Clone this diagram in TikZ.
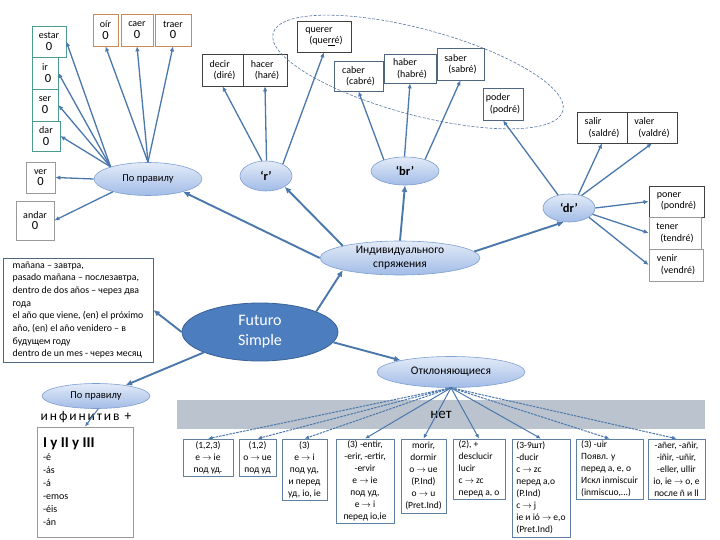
\documentclass[tikz,border=0pt]{standalone}
\usepackage{fontspec}
\setmainfont{Carlito}
\newfontfamily\spacedfont[LetterSpace=14]{Carlito}
\usetikzlibrary{shapes.geometric,arrows.meta}
\definecolor{arrc}{HTML}{4A78AC}
\definecolor{ellc}{HTML}{7E9FD2}
\definecolor{elltop}{HTML}{E3EBF8}
\definecolor{ellbot}{HTML}{A2BCE7}
\definecolor{futc}{HTML}{4C7DBE}
\definecolor{futd}{HTML}{3A6298}
\definecolor{barc}{HTML}{BAC3CE}
\definecolor{tealc}{HTML}{4B9C8E}
\definecolor{orc}{HTML}{C98A55}
\definecolor{darkc}{HTML}{404040}
\definecolor{bgc}{HTML}{4F6680}
\definecolor{botc}{HTML}{5F80A0}
\definecolor{lgc}{HTML}{9A9A9A}
\definecolor{dashc}{HTML}{5A78A8}
\newcommand{\bigzero}{{\fontsize{12.5}{13}\selectfont 0}}
\newcommand{\ra}{$\rightarrow$}
\begin{document}
\begin{tikzpicture}[x=1pt,y=-1pt,
  arr/.style={draw=arrc, line width=1.3pt, -{Latex[length=5pt,width=4.5pt]}},
  arrb/.style={draw=arrc, line width=1.9pt, -{Latex[length=6.5pt,width=6pt]}},
  arrt/.style={draw=arrc, line width=1pt, -{Latex[length=4.5pt,width=4pt]}},
  arrd/.style={arrt, dash pattern=on 2.5pt off 1pt},
  bx/.style={draw=darkc, line width=0.7pt, fill=white, inner sep=1pt, align=left, font=\fontsize{10}{11.5}\selectfont},
  zb/.style={bx, align=center},
  bt/.style={draw=botc, line width=0.7pt, fill=white, inner sep=1pt, font=\fontsize{9.5}{12}\selectfont},
  ell/.style={ellipse, draw=ellc, line width=0.6pt, top color=elltop, bottom color=ellbot, inner sep=0pt, align=center},
  qe/.style={ell, font=\fontsize{12.5}{14}\selectfont\bfseries}
]
\useasboundingbox (0,0) rectangle (720,540);
\fill[white] (0,0) rectangle (720,540);

% grey bar
\node[fill=barc, minimum width=528, minimum height=29, inner sep=0pt, font=\fontsize{15}{17}\selectfont] (bar) at (441,414.5) {нет};

% top-left boxes
\node[zb, draw=tealc, minimum width=34, minimum height=31] (estar) at (49,41.5) {estar\\\bigzero};
\node[zb, draw=tealc, minimum width=26, minimum height=32] (ir) at (45,73) {ir\\\hspace*{6pt}\bigzero};
\node[zb, draw=tealc, minimum width=26, minimum height=32] (ser) at (45,105) {ser\\\bigzero};
\node[zb, draw=tealc, minimum width=28, minimum height=30] (dar) at (46,136) {dar\\\bigzero};
\node[zb, draw=lgc, minimum width=29, minimum height=31] (ver) at (40.5,177.5) {ver\\\bigzero};
\node[zb, draw=lgc, minimum width=38, minimum height=39] (andar) at (35,220.5) {andar\\\bigzero};

\node[zb, draw=orc, minimum width=25, minimum height=32] (oir) at (105.5,30) {oír\\\bigzero};
\node[zb, draw=orc, minimum width=32, minimum height=32] (caer) at (137,30) {caer\\\bigzero};
\node[zb, draw=orc, minimum width=36, minimum height=32] (traer) at (173,30) {traer\\\bigzero};

% top-middle boxes
\node[bx, minimum width=41, minimum height=32] (decir) at (222.5,70) {decir\\\hspace*{4pt}(diré)};
\node[bx, minimum width=44, minimum height=32] (hacer) at (265,70) {hacer\\\hspace*{4pt}(haré)};
\node[bx, minimum width=54, minimum height=31] (querer) at (324,36.5) {querer\\\hspace*{4pt}(que\underline{rr}é)};
\node[bx, draw=bgc, minimum width=49, minimum height=30] (caber) at (358.5,76) {caber\\\hspace*{4pt}(cabré)};
\node[bx, draw=bgc, minimum width=52, minimum height=29] (haber) at (410,68.5) {haber\\\hspace*{4pt}(habré)};
\node[bx, draw=bgc, minimum width=47, minimum height=32] (saber) at (460.5,64) {saber\\\hspace*{4pt}(sabré)};
\node[bx, draw=bgc, minimum width=40, minimum height=32] (poder) at (503,104) {poder\\\hspace*{4pt}(podré)};

% right boxes
\node[bx, minimum width=50, minimum height=31] (salir) at (602,127.5) {salir\\\hspace*{4pt}(saldré)};
\node[bx, minimum width=50, minimum height=31] (valer) at (652,127.5) {valer\\\hspace*{4pt}(valdré)};
\node[bx, minimum width=55, minimum height=31] (poner) at (676.5,201.5) {poner\\\hspace*{4pt}(pondré)};
\node[bx, draw=lgc, minimum width=52, minimum height=32] (tener) at (675,233) {tener\\\hspace*{4pt}(tendré)};
\node[bx, draw=lgc, minimum width=54, minimum height=32] (venir) at (676,265) {venir\\\hspace*{4pt}(vendré)};

% dashed ellipse
\draw[dashc, dash pattern=on 3pt off 1.5pt, line width=0.6pt, shift={(418,72)}, rotate=-15] (0,0) ellipse [x radius=150, y radius=43];

% ellipses
\node[ell, minimum width=108, minimum height=33, font=\fontsize{10.5}{12}\selectfont] (pp1) at (148,179) {По правилу};
\node[qe, minimum width=52, minimum height=30] (rr) at (266,176) {‘r’};
\node[qe, minimum width=68, minimum height=28] (br) at (405,171) {‘br’};
\node[qe, minimum width=52, minimum height=28] (dr) at (569,208) {‘dr’};
\node[ell, minimum width=160, minimum height=34, font=\fontsize{11.5}{14}\selectfont] (ind) at (400,258) {Индивидуального\\спряжения};
\node[ellipse, draw=futd, fill=futc, line width=0.8pt, minimum width=156, minimum height=58, inner sep=0pt, align=center, text=white, font=\fontsize{16}{20}\selectfont] (fs) at (260,332) {Futuro\\Simple};
\node[ell, minimum width=148, minimum height=31, font=\fontsize{11.5}{13}\selectfont] (otk) at (451,372) {Отклоняющиеся};
\node[ell, minimum width=108, minimum height=25, font=\fontsize{10.5}{12}\selectfont] (pp2) at (96,396) {По правилу};

% text block
\node[draw=bgc, line width=0.7pt, fill=white, minimum width=150, minimum height=104, align=left, inner sep=2pt, font=\fontsize{9.8}{12.7}\selectfont] (txt) at (78,310) {mañana – завтра,\\pasado mañana – послезавтра,\\dentro de dos años – через два\\года\\el año que viene, (en) el próximo\\año, (en) el año venidero – в\\будущем году\\dentro de un mes - через месяц};

% infinitive
\node[inner sep=0pt, font=\spacedfont\fontsize{13.5}{15}\selectfont] (inf) at (86,417) {инфинитив +};
\node[draw=lgc, line width=0.7pt, fill=white, minimum width=96, minimum height=110, text width=84, align=left, inner sep=0pt, font=\fontsize{10}{13}\selectfont] (lbox) at (85,482) {{\fontsize{15}{17}\selectfont\bfseries I y II y III}\\-é\\-ás\\-á\\-emos\\-éis\\-án};

% bottom boxes
\node[bt, minimum width=50, minimum height=37, align=center] (b1) at (208,457.5) {(1,2,3)\\e \ra{} ie\\под уд.};
\node[bt, minimum width=37, minimum height=37, align=center] (b2) at (257.5,457.5) {(1,2)\\o \ra{} ue\\под уд};
\node[bt, minimum width=45, minimum height=61, align=center] (b3) at (304.5,469.5) {(3)\\e \ra{} i\\под уд,\\и перед\\уд, io, ie};
\node[bt, minimum width=58, minimum height=84, align=center] (b4) at (365,481) {(3) -entir,\\-erir, -ertir,\\-ervir\\e \ra{} ie\\под уд,\\e \ra{} i\\перед io,ie};
\node[bt, minimum width=45, minimum height=74, align=center] (b5) at (423.5,476) {morir,\\dormir\\o \ra{} ue\\(P.Ind)\\o \ra{} u\\(Pret.Ind)};
\node[bt, minimum width=52, minimum height=60, align=left] (b6) at (479,469) {(2), +\\desclucir\\lucir\\c \ra{} zc\\перед а, о};
\node[bt, minimum width=58, minimum height=98, align=left] (b7) at (541,488) {(3-9шт)\\-ducir\\c \ra{} zc\\перед а,о\\(P.Ind)\\c \ra{} j\\ie и ió \ra{} e,o\\(Pret.Ind)};
\node[bt, minimum width=67, minimum height=60, align=left] (b8) at (609.5,469) {(3) -uir\\Появл. y\\перед а, е, о\\Искл inmiscuir\\(inmiscuo,...)};
\node[bt, minimum width=57, minimum height=60, align=center] (b9) at (676.5,469) {-añer, -añir,\\-iñir, -uñir,\\-eller, ullir\\io, ie \ra{} o, e\\после ñ и ll};

% arrows from По правилу (top)
\draw[arr] (pp1.162) -- (estar.east);
\draw[arr] (pp1.162) -- (ir.east);
\draw[arr] (pp1.162) -- (ser.east);
\draw[arr] (pp1.162) -- (dar.east);
\draw[arr] (pp1.west) -- (ver.east);
\draw[arr] (pp1.200) -- (andar.east);
\draw[arr] (pp1.north) -- (oir.south);
\draw[arr] (pp1.north) -- (caer.south);
\draw[arr] (pp1.north) -- (traer.south);

% 'r'
\draw[arr] (rr.105) -- (decir.south);
\draw[arr] (rr.88) -- (hacer.south);
\draw[arr] (rr.35) -- (querer.south);
% 'br'
\draw[arr] (br.152) -- (caber.south);
\draw[arr] (br.92) -- (haber.south);
\draw[arr] (br.30) -- (saber.south);
% 'dr'
\draw[arr] (dr.130) -- (poder.south);
\draw[arr] (dr.55) -- (salir.south);
\draw[arr] (dr.45) -- (valer.south);
\draw[arr] (dr.east) -- (poner.west);
\draw[arr] (dr.-15) -- (tener.west);
\draw[arr] (dr.-25) -- (venir.west);

% Индивидуального
\draw[arrb] (ind.west) -- (pp1.-20);
\draw[arrb] (ind.168) -- (rr.-30);
\draw[arrb] (ind.north) -- (br.south);
\draw[arrb] (ind.5) -- (dr.250);

% Futuro
\draw[arrb] (fs.20) -- (ind.192);
\draw[arrb] (fs.-8) -- (otk.167);
\draw[arrb] (fs.west) -- (txt.east);
\draw[arrb] (fs.200) -- (pp2.20);
\draw[arrt] (pp2.-80) -- (lbox.north);

% Отклоняющиеся
\draw[arrd] (otk.south) -- (b1.north);
\draw[arrd] (otk.south) -- (b2.north);
\draw[arrd] (otk.south) -- (b3.north);
\draw[arrt] (otk.south) -- (b4.north);
\draw[arrt] (otk.south) -- (b5.north);
\draw[arrt] (otk.south) -- (b6.north);
\draw[arrt] (otk.south) -- (b7.north);
\draw[arrd] (otk.south) -- (b8.north);
\draw[arrd] (otk.south) -- (b9.north);
\end{tikzpicture}
\end{document}
